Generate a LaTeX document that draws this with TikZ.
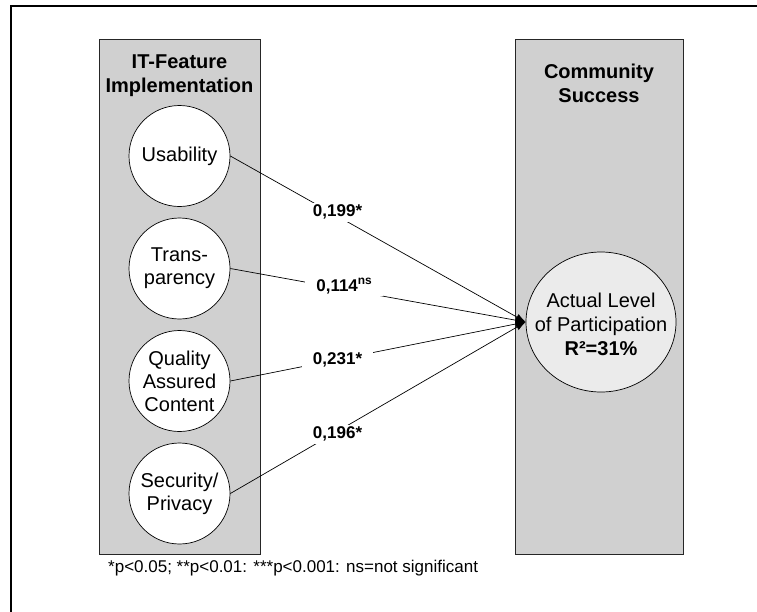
\documentclass[tikz,border=0pt]{standalone}
\usepackage{fontspec}
\setmainfont{Liberation Sans}
\usetikzlibrary{arrows.meta,shapes.geometric}
\definecolor{panelgray}{RGB}{208,208,208}
\definecolor{ellgray}{RGB}{235,235,235}
\begin{document}
\begin{tikzpicture}[x=1pt,y=-1pt,
  panel/.style={draw=black!85, fill=panelgray, line width=0.9pt},
  paneltitle/.style={align=center, font=\bfseries\fontsize{20}{24.5}\selectfont, inner sep=0pt},
  feature/.style={circle, draw, fill=white, line width=0.7pt, minimum size=101pt, inner sep=0pt, align=center, font=\fontsize{20}{23}\selectfont},
  outcome/.style={ellipse, draw, fill=ellgray, line width=0.7pt, minimum width=150pt, minimum height=140pt, inner sep=0pt},
  outcometext/.style={align=center, inner sep=0pt, font=\fontsize{20}{24}\selectfont},
  conn/.style={draw, line width=0.7pt, -{Latex[length=10pt,width=7pt]}},
  coef/.style={fill=white, inner xsep=11pt, inner ysep=2pt, font=\bfseries\fontsize{17}{20}\selectfont},
  note/.style={font=\fontsize{17}{20}\selectfont, inner sep=0pt, anchor=west}
]
\useasboundingbox (0,0) rectangle (757,611);
% outer frame
\draw[line width=1.8pt] (770,5.8) -- (11.2,5.8) -- (11.2,625);
% panels
\draw[panel] (99,39) rectangle (260,554);
\draw[panel] (515,39) rectangle (683,554);
\node[paneltitle] (t1) at (179.5,75.5) {IT-Feature\\Implementation};
\node[paneltitle] (t2) at (599,83.5) {Community\\Success};
% feature circles
\node[feature] (u) at (179.5,156) {Usability};
\node[feature] (t) at (179.5,268.5) {Trans-\\parency};
\node[feature] (q) at (179.5,381) {Quality\\Assured\\Content};
\node[feature] (s) at (179.5,493.5) {Security/\\Privacy};
% outcome
\node[outcome] (alp) at (601,322) {};
\node[outcometext] (alpt) at (601,324) {Actual Level\\of Participation\\\textbf{R²=31\%}};
% connectors
\draw[conn] (u.east) -- node[coef, pos=0.363, yshift=4pt] {0,199*} (alp.west);
\draw[conn] (t.east) -- node[coef, pos=0.386, yshift=3pt] {0,114\textsuperscript{ns}} (alp.west);
\draw[conn] (q.east) -- node[coef, pos=0.363] {0,231*} (alp.west);
\draw[conn] (s.east) -- node[coef, pos=0.363, yshift=-3pt] {0,196*} (alp.west);
% footnote
\node[note] (fn) at (108,568) {*p<0.05; **p<0.01: ***p<0.001: ns=not significant};
\end{tikzpicture}
\end{document}
